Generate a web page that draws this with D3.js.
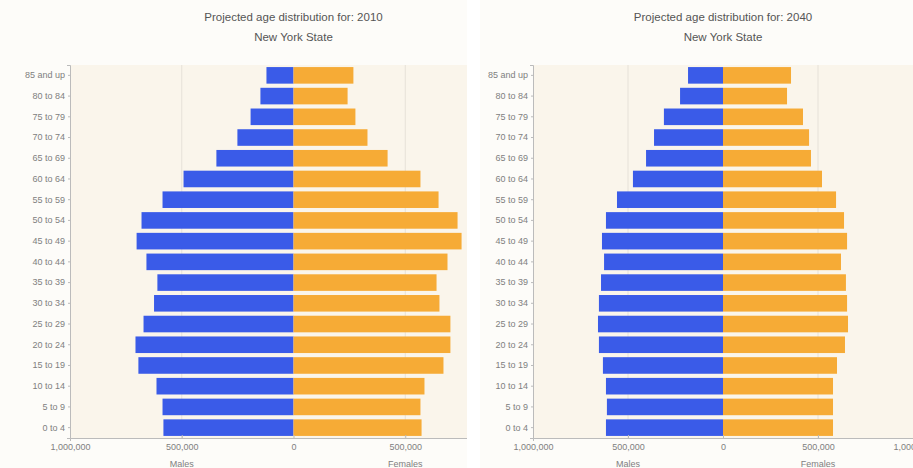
<!DOCTYPE html>
<html>
<head>
<meta charset="utf-8">
<script src="https://cdn.jsdelivr.net/npm/d3@7"></script>
<style>
  body { margin: 0; background: #ffffff; font-family: "Liberation Sans", Arial, sans-serif; }
  svg { display: block; }
  .tick text { fill: #808080; font-size: 9px; }
  .axis path, .axis line { stroke: #bbb; }
</style>
</head>
<body>
<div id="chart"></div>
<script>
// age groups, top to bottom
var ageGroups = ["85 and up", "80 to 84", "75 to 79", "70 to 74", "65 to 69", "60 to 64",
  "55 to 59", "50 to 54", "45 to 49", "40 to 44", "35 to 39", "30 to 34",
  "25 to 29", "20 to 24", "15 to 19", "10 to 14", "5 to 9", "0 to 4"];

var males2010 = [121000, 148000, 192000, 251000, 345000, 492000, 586000, 680000, 702000,
  658000, 609000, 624000, 671000, 707000, 694000, 613000, 586000, 582000];
var females2010 = [268000, 242000, 277000, 331000, 421000, 568000, 649000, 734000, 752000,
  689000, 640000, 653000, 702000, 702000, 671000, 586000, 568000, 573000];

var males2040 = [184000, 226000, 311000, 363000, 405000, 474000, 558000, 616000, 637000,
  626000, 642000, 653000, 658000, 653000, 632000, 616000, 611000, 616000];
var females2040 = [358000, 337000, 421000, 453000, 463000, 521000, 595000, 637000, 653000,
  621000, 647000, 653000, 658000, 642000, 600000, 579000, 579000, 579000];

var xTicks = [-1000000, -500000, 0, 500000, 1000000];

var svg = d3.select("#chart")
  .append("svg")
  .attr("width", 913)
  .attr("height", 468);

function drawPyramid(opts) {
  var g = svg.append("g");

  // clip the panel like the screenshot does
  var clipId = "clip" + opts.year;
  svg.append("clipPath").attr("id", clipId)
    .append("rect")
    .attr("x", opts.panelX).attr("y", 0)
    .attr("width", opts.panelW).attr("height", 468);
  g.attr("clip-path", `url(#${clipId})`);

  g.append("rect")
    .attr("x", opts.panelX).attr("y", 0)
    .attr("width", opts.panelW).attr("height", 468)
    .attr("fill", "#fdfcf9");

  var x = d3.scaleLinear()
    .domain([-1000000, 1000000])
    .range([opts.left, opts.right]);

  var y = d3.scaleBand()
    .domain(ageGroups)
    .range([65, 438])
    .paddingInner(0.2)
    .paddingOuter(0.1);

  // plot background
  g.append("rect")
    .attr("x", opts.left).attr("y", 65)
    .attr("width", opts.right - opts.left).attr("height", 373)
    .attr("fill", "#faf5eb");

  // faint gridlines
  g.selectAll(".grid")
    .data([-500000, 500000])
    .enter()
    .append("line")
    .attr("x1", d => x(d)).attr("x2", d => x(d))
    .attr("y1", 65).attr("y2", 438)
    .attr("stroke", "#e6e1d8");

  var rows = ageGroups.map((a, i) => ({ age: a, m: opts.males[i], f: opts.females[i] }));

  g.selectAll(".male")
    .data(rows)
    .enter()
    .append("rect")
    .attr("x", d => x(-d.m))
    .attr("y", d => y(d.age))
    .attr("width", d => x(0) - x(-d.m))
    .attr("height", y.bandwidth())
    .attr("fill", "#3a5be8");

  g.selectAll(".female")
    .data(rows)
    .enter()
    .append("rect")
    .attr("x", x(0))
    .attr("y", d => y(d.age))
    .attr("width", d => x(d.f) - x(0))
    .attr("height", y.bandwidth())
    .attr("fill", "#f6ab36");

  // labels past the panel edge are hidden in the screenshot anyway
  var visibleTicks = xTicks.filter(d => x(d) - 20 < opts.panelX + opts.panelW);

  var fmt = d3.format(",");
  var bottomAxis = d3.axisBottom(x)
    .tickValues(visibleTicks)
    .tickSize(3)
    .tickFormat(d => fmt(Math.abs(d)));
  var leftAxis = d3.axisLeft(y).tickSize(3).tickPadding(2);

  g.append("g")
    .attr("class", "axis")
    .attr("transform", "translate(0, 438)")
    .call(bottomAxis)
    .call(a => a.selectAll(".tick line").attr("y2", -3));

  g.append("g")
    .attr("class", "axis")
    .attr("transform", `translate(${opts.left}, 0)`)
    .call(leftAxis)
    .call(a => a.selectAll(".tick line").attr("x2", -2));

  // titles
  var cx = x(0);
  g.append("text")
    .attr("x", cx).attr("y", 21)
    .attr("text-anchor", "middle")
    .attr("font-size", "11.5px")
    .attr("fill", "#555")
    .text("Projected age distribution for: " + opts.year);
  g.append("text")
    .attr("x", cx).attr("y", 41)
    .attr("text-anchor", "middle")
    .attr("font-size", "11.5px")
    .attr("fill", "#555")
    .text("New York State");

  g.append("text")
    .attr("x", x(-500000)).attr("y", 467)
    .attr("text-anchor", "middle")
    .attr("font-size", "9px")
    .attr("fill", "#808080")
    .text("Males");
  g.append("text")
    .attr("x", x(500000)).attr("y", 467)
    .attr("text-anchor", "middle")
    .attr("font-size", "9px")
    .attr("fill", "#808080")
    .text("Females");
}

drawPyramid({ year: 2010, males: males2010, females: females2010,
  panelX: 0, panelW: 467, left: 70, right: 517 });
drawPyramid({ year: 2040, males: males2040, females: females2040,
  panelX: 480, panelW: 433, left: 533, right: 913 });
</script>
</body>
</html>
